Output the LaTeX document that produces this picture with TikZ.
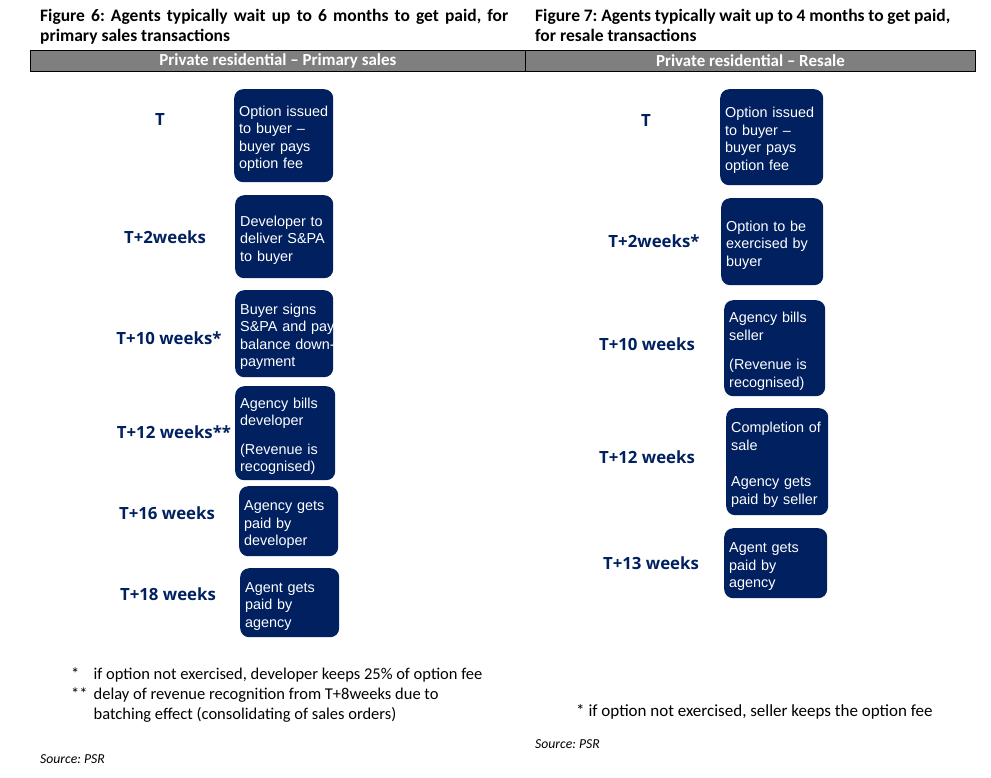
\documentclass[tikz,border=0pt]{standalone}
\usepackage{fontspec}
\setmainfont{Carlito}
\newfontfamily\boxfont{Liberation Sans}
\newfontfamily\labelfont{Open Sans}
\usepackage{xcolor}
\definecolor{psrnavy}{HTML}{002060}
\definecolor{psrgrey}{HTML}{7F7F7F}
\usetikzlibrary{positioning}
\frenchspacing

\begin{document}
\begin{tikzpicture}[x=1pt,y=-1pt,
  stepbox/.style={rectangle,rounded corners=9pt,fill=psrnavy,text=white,anchor=north west,
    align=left,inner xsep=5pt,inner ysep=0pt,text width=#1,text height=17pt,
    font=\boxfont\fontsize{14.4}{17.5}\selectfont},
  timelabel/.style={text=psrnavy,inner sep=0pt,font=\labelfont\bfseries\fontsize{16.8}{20}\selectfont},
  headbar/.style={draw=black,line width=0.8pt,fill=psrgrey,text=white,anchor=north west,
    minimum height=21pt,inner sep=0pt,font=\bfseries\fontsize{16.9}{18}\selectfont},
  figtitle/.style={anchor=base west,inner sep=0pt,font=\bfseries\fontsize{17.5}{20}\selectfont},
  note/.style={anchor=base west,inner sep=0pt,font=\fontsize{17}{20}\selectfont},
  source/.style={anchor=base west,inner sep=0pt,font=\itshape\fontsize{13.7}{15}\selectfont}]
\useasboundingbox (0,0) rectangle (991,777);

% titles and header bars
\node[figtitle] (figA) at (40,21.7) {\begin{tabular}[t]{@{}l@{}}\makebox[468pt][s]{Figure 6: Agents typically wait up to 6 months to get paid, for}\\primary sales transactions\end{tabular}};
\node[figtitle] (figB) at (535,21.7) {\begin{tabular}[t]{@{}l@{}}\makebox[415pt][s]{Figure 7: Agents typically wait up to 4 months to get paid,}\\for resale transactions\end{tabular}};
\node[headbar,minimum width=495pt] (hdA) at (30,50) {Private residential \textendash{} Primary sales};
\node[headbar,minimum width=450pt] (hdB) at (525,50) {Private residential \textendash{} Resale};

% primary sales
\node[timelabel] (tA1) at (160,119) {T};
\node[timelabel] (tA2) at (165,237) {T+2weeks};
\node[timelabel] (tA3) at (169,338) {T+10 weeks*};
\node[timelabel] (tA4) at (174,432) {T+12 weeks**};
\node[timelabel] (tA5) at (167,513) {T+16 weeks};
\node[timelabel] (tA6) at (168,594) {T+18 weeks};

\node[stepbox=89pt,minimum height=93pt] (pA1) at (234,89) {Option issued\\to buyer \textendash\\buyer pays\\option fee};
\node[stepbox=88pt,minimum height=83pt] (pA2) at (235,195) {Developer to\\deliver S\&PA\\to buyer};
\node[stepbox=88pt,minimum height=87pt] (pA3) at (235,290) {Buyer signs\\\mbox{S\&PA and pay}\\\mbox{balance down-}\\payment};
\node[stepbox=90pt,minimum height=94pt] (pA4) at (235,386) {Agency bills\\developer\\[11pt](Revenue is\\recognised)};
\node[stepbox=89pt,minimum height=70pt] (pA5) at (239,486) {Agency gets\\paid by\\developer};
\node[stepbox=89pt,minimum height=69pt] (pA6) at (240,568) {Agent gets\\paid by\\agency};

% resale
\node[timelabel] (tB1) at (646,120) {T};
\node[timelabel] (tB2) at (654,241) {T+2weeks*};
\node[timelabel] (tB3) at (647,344) {T+10 weeks};
\node[timelabel] (tB4) at (647,457) {T+12 weeks};
\node[timelabel] (tB5) at (651,563) {T+13 weeks};

\node[stepbox=93pt,minimum height=96pt] (pB1) at (720,89) {Option issued\\to buyer \textendash\\buyer pays\\option fee};
\node[stepbox=92pt,minimum height=87pt] (pB2) at (721,198) {Option to be\\exercised by\\buyer};
\node[stepbox=91pt,minimum height=96pt] (pB3) at (724,300) {Agency bills\\seller\\[12pt](Revenue is\\recognised)};
\node[stepbox=92pt,minimum height=107pt] (pB4) at (726,408) {Completion of\\sale\\[19pt]Agency gets\\paid by seller};
\node[stepbox=93pt,minimum height=70pt] (pB5) at (724,528) {Agent gets\\paid by\\agency};

% footnotes
\node[note,font=\fontsize{16.5}{20}\selectfont] (ntA) at (71,679) {\begin{tabular}[t]{@{}l@{\hspace{6pt}}l@{}}
* & if option not exercised, developer keeps 25\% of option fee\\
{**} & delay of revenue recognition from T+8weeks due to\\
 & batching effect (consolidating of sales orders)
\end{tabular}};
\node[note] (ntB) at (576,716) {* if option not exercised, seller keeps the option fee};
\node[source] (srcA) at (40,763) {Source: PSR};
\node[source] (srcB) at (535,748) {Source: PSR};
\end{tikzpicture}
\end{document}
